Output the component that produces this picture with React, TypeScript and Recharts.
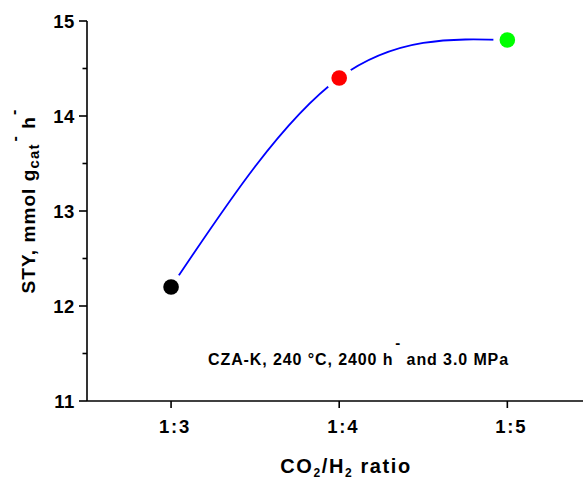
import React from 'react';
import { LineChart, Line, XAxis, YAxis, Customized } from 'recharts';

const ratioLabels = ['1:3', '1:4', '1:5'];
const h2Parts = [3, 4, 5];
const styValues = [12.2, 14.4, 14.8];
const pointColors = ['#000000', '#ff0000', '#00ff00'];
const yTicks = [11, 11.5, 12, 12.5, 13, 13.5, 14, 14.5, 15];

const data = h2Parts.map((x, i) => ({ x, label: ratioLabels[i], sty: styValues[i], color: pointColors[i] }));

const FONT = '"Liberation Sans", Arial, Helvetica, sans-serif';

const YTick = (props: any) => {
  const { x, y, payload } = props;
  const major = Number.isInteger(payload.value);
  return (
    <g>
      <line x1={x - (major ? 8 : 4.5)} x2={x} y1={y} y2={y} stroke="#000" strokeWidth={1.6} />
      {major && (
        <text x={x - 12} y={y} dy="0.36em" textAnchor="end" fontFamily={FONT} fontWeight="bold" fontSize={18.5} fill="#000" letterSpacing={0.6}>
          {payload.value}
        </text>
      )}
    </g>
  );
};

const XTick = (props: any) => {
  const { x, y, payload } = props;
  const idx = h2Parts.indexOf(payload.value);
  return (
    <g>
      <line x1={x} x2={x} y1={y} y2={y + 7} stroke="#000" strokeWidth={1.6} />
      <text x={x + 4} y={y + 32} textAnchor="middle" fontFamily={FONT} fontWeight="bold" fontSize={18.5} fill="#000" letterSpacing={1.8}>
        {idx >= 0 ? ratioLabels[idx] : ''}
      </text>
    </g>
  );
};

const Dot = (props: any) => {
  const { cx, cy, payload, index } = props;
  return (
    <g key={`dot-${index}`}>
      <circle cx={cx} cy={cy} r={14} fill="#ffffff" />
      <circle cx={cx} cy={cy} r={7.8} fill={payload.color} />
    </g>
  );
};

const Texts = () => (
  <g fontFamily={FONT} fontWeight="bold" fill="#000">
    <text x={346} y={473} textAnchor="middle" fontSize={20} letterSpacing={1.6}>
      CO<tspan fontSize={12} dy={4}>2</tspan>
      <tspan dy={-4}>/H</tspan>
      <tspan fontSize={12} dy={4}>2</tspan>
      <tspan dy={-4}> ratio</tspan>
    </text>
    <text x={208} y={365} fontSize={16} letterSpacing={0.9}>
      CZA-K, 240 °C, 2400 h<tspan fontSize={15} dx={2} dy={-17}>-</tspan>
      <tspan dy={17}> and 3.0 MPa</tspan>
    </text>
    <text x={35} y={201} transform="rotate(-90, 35, 201)" textAnchor="middle" fontSize={19} letterSpacing={1.1}>
      STY, mmol g<tspan fontSize={15} dy={4}>cat</tspan>
      <tspan fontSize={16} dx={2} dy={-19}>-</tspan>
      <tspan dy={15}> h</tspan>
      <tspan fontSize={16} dx={1} dy={-16}>-</tspan>
    </text>
  </g>
);

export default function App() {
  return (
    <div style={{ position: 'absolute', left: 0, top: 0, width: 583, height: 479, background: '#fff' }}>
      <LineChart width={583} height={479} data={data} margin={{ top: 21, right: 0, bottom: 0, left: 0 }}>
        <XAxis
          dataKey="x"
          type="number"
          domain={[2.5, 5.45]}
          ticks={h2Parts}
          allowDataOverflow
          height={78}
          tickSize={0}
          tickMargin={0}
          tickLine={false}
          tick={<XTick />}
          axisLine={{ stroke: '#000', strokeWidth: 1.6 }}
        />
        <YAxis
          type="number"
          domain={[11, 15]}
          ticks={yTicks}
          interval={0}
          allowDataOverflow
          width={87}
          tickSize={0}
          tickMargin={0}
          tickLine={false}
          tick={<YTick />}
          axisLine={{ stroke: '#000', strokeWidth: 1.6 }}
        />
        <Line
          dataKey="sty"
          type="natural"
          stroke="#0000ff"
          strokeWidth={1.8}
          dot={(p: any) => <Dot key={`d-${p.index}`} {...p} />}
          activeDot={false}
          isAnimationActive={false}
        />
        <Customized component={Texts} />
      </LineChart>
    </div>
  );
}
